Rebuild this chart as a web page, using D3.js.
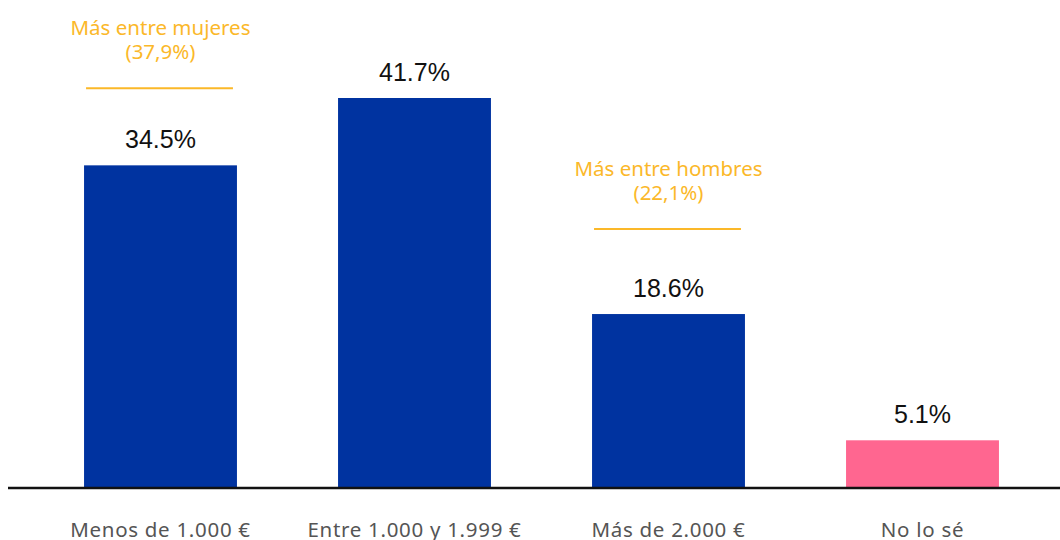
<!DOCTYPE html>
<html>
<head>
<meta charset="utf-8">
<script src="https://cdn.jsdelivr.net/npm/d3@7"></script>
<style>
  html, body { margin: 0; padding: 0; background: #fff; }
  svg { display: block; }
</style>
</head>
<body>
<svg id="chart" width="1060" height="540"></svg>
<script>
const categories = ["Menos de 1.000 €", "Entre 1.000 y 1.999 €", "Más de 2.000 €", "No lo sé"];
const values = [34.5, 41.7, 18.6, 5.1];
const valueLabels = ["34.5%", "41.7%", "18.6%", "5.1%"];
const barColors = ["#0033a0", "#0033a0", "#0033a0", "#ff6690"];
const annotationCategories = ["Menos de 1.000 €", "Más de 2.000 €"];
const annotationLine1 = ["Más entre mujeres", "Más entre hombres"];
const annotationLine2 = ["(37,9%)", "(22,1%)"];

const svg = d3.select("#chart");
const baseY = 488;
const x = d3.scaleBand().domain(categories).range([33.5, 1049.5]).paddingInner(0.398).paddingOuter(0.199);
const y = d3.scaleLinear().domain([0, 41.7]).range([baseY, 98]);

const data = categories.map((c, i) => ({ c, v: values[i], label: valueLabels[i], color: barColors[i] }));

svg.selectAll("rect.bar").data(data).join("rect")
  .attr("class", "bar")
  .attr("x", d => x(d.c))
  .attr("y", d => y(d.v))
  .attr("width", x.bandwidth())
  .attr("height", d => y(0) - y(d.v))
  .attr("fill", d => d.color);

svg.selectAll("text.val").data(data).join("text")
  .attr("class", "val")
  .attr("x", d => x(d.c) + x.bandwidth() / 2)
  .attr("y", d => y(d.v) - 17)
  .attr("text-anchor", "middle")
  .attr("font-family", "Liberation Sans, Arial, sans-serif")
  .attr("font-size", 25)
  .attr("fill", "#111")
  .text(d => d.label);

// axis
const axis = d3.axisBottom(x).tickSize(0).tickPadding(0);
const ag = svg.append("g").attr("transform", `translate(0,${baseY})`).call(axis);
ag.select(".domain").remove();
ag.append("line").attr("x1", 8).attr("x2", 1060).attr("y1", 0).attr("y2", 0)
  .attr("stroke", "#111").attr("stroke-width", 2.5);
ag.selectAll(".tick text")
  .attr("y", 49)
  .attr("dy", 0)
  .attr("font-family", "Noto Sans, Open Sans, sans-serif")
  .attr("font-size", 20.5)
  .attr("letter-spacing", 0.7)
  .attr("fill", "#555");

// annotations
const annGap = [77, 85];
annotationCategories.forEach((c, i) => {
  const v = values[categories.indexOf(c)];
  const cx = x(c) + x.bandwidth() / 2;
  const ly = y(v) - annGap[i];
  svg.append("line")
    .attr("x1", x(c) + 2).attr("x2", x(c) + x.bandwidth() - 4)
    .attr("y1", ly).attr("y2", ly)
    .attr("stroke", "#fbb829").attr("stroke-width", 2);
  [annotationLine1[i], annotationLine2[i]].forEach((txt, k) => {
    svg.append("text")
      .attr("x", cx)
      .attr("y", ly - 53 + k * 24)
      .attr("text-anchor", "middle")
      .attr("font-family", "Noto Sans, Open Sans, sans-serif")
      .attr("font-size", 20.5)
      .attr("fill", "#fbb829")
      .text(txt);
  });
});
</script>
</body>
</html>
